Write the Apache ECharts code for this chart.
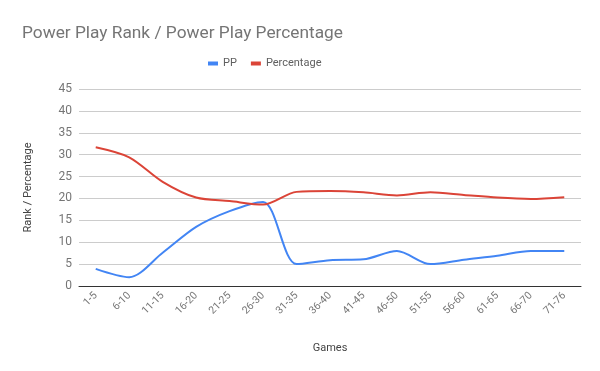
<!DOCTYPE html>
<html><head><meta charset="utf-8">
<script src="https://cdn.jsdelivr.net/npm/echarts@6/dist/echarts.min.js"></script>
<style>html,body{margin:0;padding:0;background:#fff}#c{width:600px;height:371px}</style>
</head><body><div id="c"></div>
<script>
const categories = ['1-5','6-10','11-15','16-20','21-25','26-30','31-35','36-40','41-45','46-50','51-55','56-60','61-65','66-70','71-76'];
const ppValues = [3.9, 2.0, 7.6, 13.5, 17.1, 19.2, 5.0, 5.9, 6.1, 8.0, 5.0, 6.0, 6.9, 8.0, 8.0];
const percentageValues = [31.7, 29.4, 23.8, 20.2, 19.4, 18.6, 21.5, 21.7, 21.4, 20.7, 21.4, 20.8, 20.2, 19.9, 20.3];
const yTicks = [0, 5, 10, 15, 20, 25, 30, 35, 40, 45];

const chart = echarts.init(document.getElementById('c'), null, {renderer: 'canvas'});
const font = 'Roboto, Arial, sans-serif';
chart.setOption({
  animation: false,
  textStyle: {fontFamily: font},
  title: {
    text: 'Power Play Rank / Power Play Percentage',
    left: 17, top: 20,
    textStyle: {fontSize: 17.3, fontWeight: 'normal', color: '#757575', fontFamily: font}
  },
  legend: {
    top: 53, left: 203,
    itemWidth: 10, itemHeight: 4, itemGap: 14,
    icon: 'rect',
    textStyle: {fontSize: 11, color: '#5f5f5f', fontFamily: font},
    data: ['PP', 'Percentage']
  },
  grid: {left: 79, right: 19, top: 89, bottom: 85},
  xAxis: {
    type: 'category',
    data: categories,
    boundaryGap: true,
    name: 'Games',
    nameLocation: 'middle',
    nameGap: 57,
    nameTextStyle: {fontSize: 11, color: '#444', fontFamily: font},
    axisLine: {show: true, lineStyle: {color: '#333', width: 1}},
    axisTick: {show: false},
    axisLabel: {rotate: 45, fontSize: 10.5, color: '#777', interval: 0, margin: 8, fontFamily: font}
  },
  yAxis: {
    type: 'value',
    min: yTicks[0], max: yTicks[yTicks.length - 1], interval: 5,
    name: 'Rank / Percentage',
    nameLocation: 'middle',
    nameGap: 45,
    nameTextStyle: {fontSize: 11, color: '#444', fontFamily: font},
    axisLine: {show: false},
    axisTick: {show: false},
    axisLabel: {fontSize: 12, color: '#757575', margin: 7, fontFamily: font},
    splitLine: {lineStyle: {color: '#cccccc', width: 1}}
  },
  series: [
    {
      name: 'PP', type: 'line', data: ppValues, smooth: 0.3,
      symbol: 'none', lineStyle: {color: '#4285f4', width: 2}, itemStyle: {color: '#4285f4'}
    },
    {
      name: 'Percentage', type: 'line', data: percentageValues, smooth: 0.3,
      symbol: 'none', lineStyle: {color: '#db4437', width: 2}, itemStyle: {color: '#db4437'}
    }
  ]
});
</script></body></html>
